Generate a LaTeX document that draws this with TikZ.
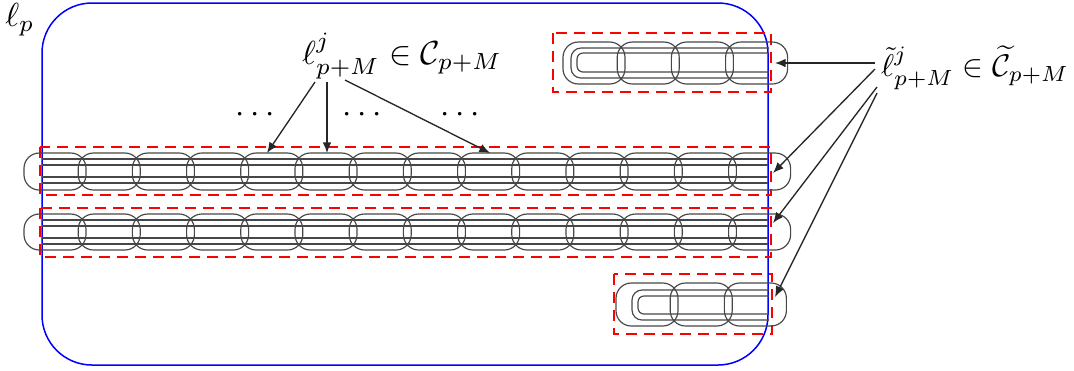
\documentclass[tikz,border=0pt]{standalone}
\usetikzlibrary{arrows.meta}
\begin{document}
\begin{tikzpicture}[x=0.3pt,y=-0.3pt,
  link/.style={draw=black!72, line width=0.35pt},
  looprect/.style={draw=blue, line width=0.45pt, rounded corners=15pt},
  redbox/.style={draw=red, line width=0.75pt, dash pattern=on 3.4pt off 2pt},
  arr/.style={draw=black!85, line width=0.4pt, -{Latex[length=3.2pt,width=2.6pt]}}]
\useasboundingbox (0,0) rectangle (1074,370);
% chain macro: left x, top y, height, number of links
\newcommand\mychain[4]{%
  \foreach \i in {1,...,#4} {
    \draw[link, rounded corners=4.6pt] ({#1+(\i-1)*54.2},#2) rectangle ++(62,#3);
  }}
% big loop
\draw[looprect] (42,3) rectangle (768,365);
% red boxes
\draw[redbox] (553,33) rectangle (771,92);
\draw[redbox] (40,147) rectangle (771,195);
\draw[redbox] (40,208) rectangle (771,257);
\draw[redbox] (614,274) rectangle (772,334);
% rows
\mychain{24}{153}{37}{14}
\mychain{24}{214}{36}{14}
\foreach \d in {6,12,24,30} {
  \draw[link] (42,153+\d) -- (768,153+\d);
  \draw[link] (42,214+\d) -- (768,214+\d);
}
% top-right chain
\mychain{563}{42}{42}{4}
\draw[link, rounded corners=3pt] (769,48) -- (571,48) -- (571,78) -- (769,78);
\draw[link, rounded corners=1.8pt] (769,53) -- (577,53) -- (577,72) -- (769,72);
% bottom-right chain
\mychain{616}{283}{43}{3}
\draw[link, rounded corners=3pt] (769,290) -- (632,290) -- (632,320) -- (769,320);
\draw[link, rounded corners=1.8pt] (769,296) -- (638,296) -- (638,314) -- (769,314);
% labels
\node (lp) at (20,20) {$\ell_p$};
\node (lj) at (402,56) {$\ell^j_{p+M}\in\mathcal{C}_{p+M}$};
\node[scale=0.94] (lt) at (975,68) {$\tilde\ell^j_{p+M}\in\widetilde{\mathcal{C}}_{p+M}$};
\node (d1) at (255,115) {$\cdots$};
\node (d2) at (362,115) {$\cdots$};
\node (d3) at (460,115) {$\cdots$};
% arrow coordinates
\coordinate (s1) at (315,82);
\coordinate (s2) at (327,82);
\coordinate (s3) at (345,80);
\coordinate (e1) at (267,153);
\coordinate (e2) at (327,153);
\coordinate (e3) at (490,153);
\coordinate (t0) at (875,63);
\coordinate (t1) at (875,69);
\coordinate (t2) at (877,87);
\coordinate (t3) at (877,93);
\coordinate (f0) at (775,63);
\coordinate (f1) at (773,173);
\coordinate (f2) at (773,223);
\coordinate (f3) at (775,297);
\draw[arr] (s1) -- (e1);
\draw[arr] (s2) -- (e2);
\draw[arr] (s3) -- (e3);
\draw[arr] (t0) -- (f0);
\draw[arr] (t1) -- (f1);
\draw[arr] (t2) -- (f2);
\draw[arr] (t3) -- (f3);
\end{tikzpicture}
\end{document}
